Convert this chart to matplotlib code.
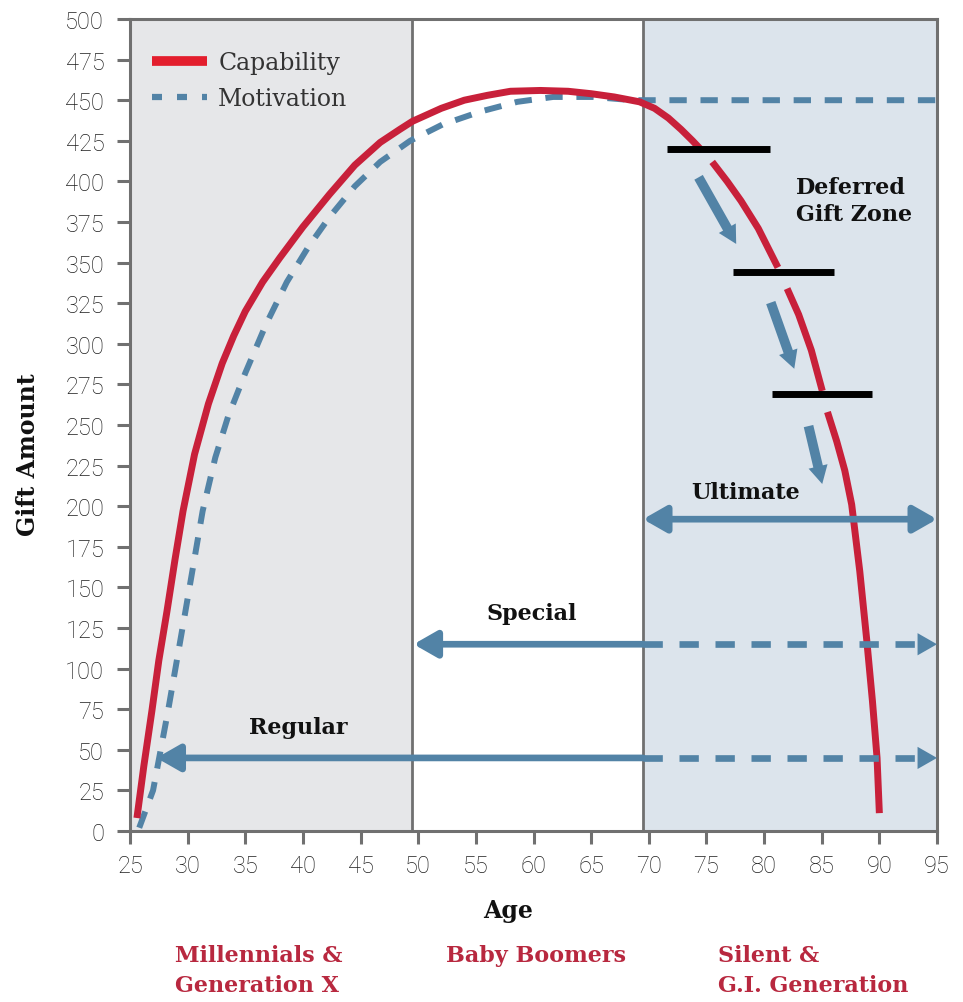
import numpy as np
import matplotlib.pyplot as plt
import matplotlib.transforms as mtransforms
from matplotlib.lines import Line2D
from matplotlib.patches import FancyArrowPatch

# capability curve (nan = gap under a black bar)
cap_age = [25.6, 26.2, 26.9, 27.5, 28.2, 28.9, 29.6, 30.6, 31.8, 33.0, 34.0, 35.0, 36.5, 38.0,
           40.0, 42.3, 44.5, 46.7, 48.4, 49.5, 52.0, 54.0, 56.0, 58.0, 60.6, 63.0, 65.0, 67.0,
           69.2, 70.5, 71.7, 72.8, 73.8, 74.6, np.nan,
           75.5, 76.8, 78.0, 79.5, 81.2, np.nan,
           82.0, 83.0, 84.1, 85.05, np.nan,
           85.5, 86.3, 87.0, 87.6, 88.3, 88.9, 89.4, 89.8, 90.0]
cap_val = [8, 40, 74, 105, 135, 167, 197, 232, 263, 288, 305, 320, 338, 353,
           372, 392, 410, 424, 432, 437, 445, 450, 453, 455.5, 456, 455.5, 454, 452,
           449, 445, 439, 432, 425, 419, np.nan,
           412, 400, 388, 371, 347, np.nan,
           334, 318, 296, 271, np.nan,
           258, 240, 222, 201, 160, 118, 80, 45, 11]

# motivation curve
mot_age = [25.8, 27.0, 28.3, 29.8, 31.3, 32.4, 33.5, 35.0, 36.8, 38.6, 40.5, 42.3, 44.5, 46.7,
           49.3, 52.1, 55.4, 58.6, 61.7, 65.2, 68.6, 95.0]
mot_val = [2, 25, 74, 135, 197, 230, 255, 282, 312, 338, 360, 378, 397, 412,
           425, 435, 443, 449, 452, 452, 450, 450]

# generation zones
zone_edges = [25, 49.5, 69.5, 95]
zone_colors = ['#e6e7e9', '#ffffff', '#dce4ec']
gen_labels = ['Millennials &\nGeneration X', 'Baby Boomers', 'Silent &\nG.I. Generation']
gen_x = [28.9, 52.4, 76.0]

# black step bars (x start, x end, level)
bar_x0 = [71.6, 77.3, 80.7]
bar_x1 = [80.5, 86.1, 89.4]
bar_y = [420, 344.5, 269]

# thick downward arrows in the deferred gift zone
darr_start = [(74.2, 404), (80.5, 327), (83.8, 251)]
darr_end = [(77.7, 360), (82.7, 283), (85.1, 212)]

# gift type ranges: name, start age, level, label position
gift_names = ['Ultimate', 'Special', 'Regular']
gift_start = [69.5, 49.6, 27.3]
gift_level = [192, 115, 45]
gift_label_x = [78.4, 59.8, 39.6]
gift_label_y = [209, 134, 64]

RED = '#c8203a'
BLUE = '#5283a6'
GREY = '#707070'
SERIF = dict(family='DejaVu Serif', fontweight='bold')

fig = plt.figure(figsize=(9.63, 10.03), dpi=100)
ax = fig.add_axes([130 / 963, 171 / 1003, 807 / 963, 812 / 1003])

for i in range(3):
    ax.axvspan(zone_edges[i], zone_edges[i + 1], color=zone_colors[i], zorder=0, lw=0)
for xe in zone_edges[1:3]:
    ax.axvline(xe, color=GREY, lw=2, zorder=1)

ax.plot(cap_age, cap_val, color=RED, lw=5, solid_capstyle='butt', solid_joinstyle='round', zorder=4)
ax.plot(mot_age, mot_val, color=BLUE, lw=4.3, linestyle=(0, (2.9, 2.3)), dash_capstyle='butt', zorder=3)

for x0, x1, y in zip(bar_x0, bar_x1, bar_y):
    ax.plot([x0, x1], [y, y], color='black', lw=5, solid_capstyle='butt', zorder=5)

for s, e in zip(darr_start, darr_end):
    ax.add_patch(FancyArrowPatch(s, e, arrowstyle='simple,head_length=13,head_width=14,tail_width=7',
                                 mutation_scale=1, color=BLUE, lw=0, zorder=5))

for name, x0, y, lx, ly in zip(gift_names, gift_start, gift_level, gift_label_x, gift_label_y):
    if x0 >= zone_edges[2]:
        ax.add_patch(FancyArrowPatch((x0, y), (95, y), arrowstyle='<|-|>,head_length=14,head_width=8',
                                     mutation_scale=1, color=BLUE, lw=4.8, shrinkA=0, shrinkB=0, zorder=6))
    else:
        ax.add_patch(FancyArrowPatch((zone_edges[2], y), (x0, y), arrowstyle='-|>,head_length=14,head_width=8',
                                     mutation_scale=1, color=BLUE, lw=4.8, shrinkA=0, shrinkB=0, zorder=6))
        ax.plot([zone_edges[2], 93.2], [y, y], color=BLUE, lw=4.8, linestyle=(0, (2.9, 2.5)),
                dash_capstyle='butt', zorder=6)
        ax.add_patch(FancyArrowPatch((93.5, y), (95, y), arrowstyle='-|>,head_length=14,head_width=8',
                                     mutation_scale=1, color=BLUE, lw=0, shrinkA=0, shrinkB=0, zorder=6))
    ax.text(lx, ly, name, ha='center', va='center', fontsize=16, color='#111111', zorder=7, **SERIF)

ax.text(82.8, 388, 'Deferred\nGift Zone', ha='left', va='center', fontsize=16, color='#111111',
        linespacing=1.3, zorder=7, **SERIF)

ax.set_xlim(25, 95)
ax.set_ylim(0, 500)
ax.set_xticks(np.arange(25, 96, 5))
ax.set_yticks(np.arange(0, 501, 25))
for sp in ax.spines.values():
    sp.set_color(GREY)
    sp.set_linewidth(2.2)
ax.tick_params(axis='both', colors=GREY, width=2.2, length=9.5, labelcolor='#1e1e1e', labelsize=17)
ax.tick_params(axis='y', pad=9)
ax.tick_params(axis='x', pad=7)
for lab in ax.get_xticklabels() + ax.get_yticklabels():
    lab.set_family('Roboto')
    lab.set_fontweight('light')

ax.set_xlabel('Age', fontsize=17, color='#111111', **SERIF)
ax.xaxis.set_label_coords((508 - 130) / 807, -(899 - 832) / 812)
ax.set_ylabel('Gift Amount', fontsize=17, color='#111111', **SERIF)
ax.yaxis.set_label_coords(-(130 - 40) / 807, (832 - 455) / 812)

handles = [Line2D([], [], color='#e31e2d', lw=7, solid_capstyle='butt'),
           Line2D([], [], color=BLUE, lw=4.5, linestyle=(0, (1.6, 2.4)), dash_capstyle='butt')]
leg = ax.legend(handles, ['Capability', 'Motivation'], loc='upper left', bbox_to_anchor=(0.01, 0.978),
                frameon=False, handlelength=2.3, handletextpad=0.5, labelspacing=0.55,
                borderaxespad=0.2, prop=dict(family='DejaVu Serif', size=17))
for t in leg.get_texts():
    t.set_color('#333333')

trans = mtransforms.blended_transform_factory(ax.transData, fig.transFigure)
for lab, x in zip(gen_labels, gen_x):
    ax.text(x, 1 - 945 / 1003, lab, transform=trans, ha='left', va='top', fontsize=16,
            color='#b8283f', linespacing=1.5, **SERIF)

fig.savefig('out.png', dpi=100)
